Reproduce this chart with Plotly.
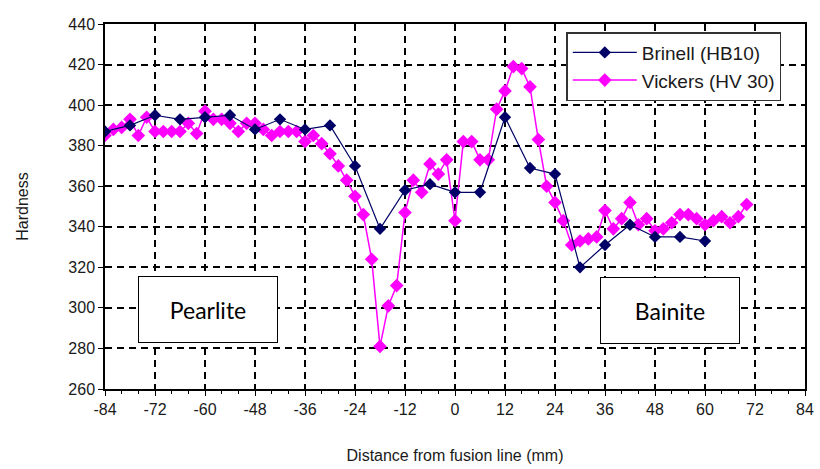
import plotly.graph_objects as go

# ---- data ----
brinell_x = [-84, -78, -72, -66, -60, -54, -48, -42, -36, -30, -24, -18, -12,
             -6, 0, 6, 12, 18, 24, 30, 36, 42, 48, 54, 60]
brinell_y = [387, 390, 395, 393, 394, 395, 388, 393, 388, 390, 370, 339, 358,
             361, 357, 357, 394, 369, 366, 320, 331, 341, 335, 335, 333]

vickers_x = [-84, -82, -80, -78, -76, -74, -72, -70, -68, -66, -64, -62, -60,
             -58, -56, -54, -52, -50, -48, -46, -44, -42, -40, -38, -36, -34,
             -32, -30, -28, -26, -24, -22, -20, -18, -16, -14, -12, -10, -8,
             -6, -4, -2, 0, 2, 4, 6, 8, 10, 12, 14, 16, 18, 20, 22, 24, 26,
             28, 30, 32, 34, 36, 38, 40, 42, 44, 46, 48, 50, 52, 54, 56, 58,
             60, 62, 64, 66, 68, 70]
vickers_y = [385, 388, 389, 393, 385, 394, 387, 387, 387, 387, 391, 386, 397,
             393, 393, 391, 387, 391, 391, 388, 385, 387, 387, 387, 382, 385,
             381, 376, 370, 363, 355, 346, 324, 281, 301, 311, 347, 363, 357,
             371, 366, 373, 343, 382, 382, 373, 373, 398, 407, 419, 418, 409,
             383, 360, 352, 343, 331, 333, 334, 335, 348, 339, 344, 352, 341,
             344, 338, 339, 342, 346, 346, 344, 341, 343, 345, 342, 345, 351]

x_ticks = [-84, -72, -60, -48, -36, -24, -12, 0, 12, 24, 36, 48, 60, 72, 84]
y_ticks = [260, 280, 300, 320, 340, 360, 380, 400, 420, 440]

regions = ["Pearlite", "Bainite"]
region_x = [-59.3, 51.5]
region_y = [299.3, 298.8]

NAVY = "#000066"
MAGENTA = "#FF00FF"
FONT = "Liberation Sans, Arial, sans-serif"

fig = go.Figure()
fig.add_trace(go.Scatter(
    x=vickers_x, y=vickers_y, mode="lines+markers", name="Vickers (HV 30)",
    line=dict(color=MAGENTA, width=1.5),
    marker=dict(symbol="diamond", size=10.5, color=MAGENTA),
))
fig.add_trace(go.Scatter(
    x=brinell_x, y=brinell_y, mode="lines+markers", name="Brinell (HB10)",
    line=dict(color=NAVY, width=1.2),
    marker=dict(symbol="diamond", size=9.5, color=NAVY),
))

for name, rx, ry in zip(regions, region_x, region_y):
    fig.add_annotation(
        x=rx, y=ry, xref="x", yref="y", text=name, showarrow=False,
        font=dict(family="Lato, Open Sans, sans-serif", size=23, color="black"),
        bgcolor="white", bordercolor="black", borderwidth=1, borderpad=1,
        width=136, height=63, align="center", valign="middle",
    )

axis_common = dict(
    showline=True, linecolor="black", linewidth=1.5, mirror=True,
    showgrid=True, gridcolor="black", gridwidth=1.5, griddash="7px,5px",
    zeroline=False, ticks="outside", ticklen=5, tickcolor="black",
    tickfont=dict(family=FONT, size=16, color="#1a1a1a"),
    automargin=False,
)

fig.update_xaxes(
    range=[-84, 84], tickvals=x_ticks, ticktext=[str(v) for v in x_ticks],
    minor=dict(dtick=4, ticks="outside", ticklen=3, tickcolor="black", showgrid=False),
    title=dict(text="Distance from fusion line (mm)",
               font=dict(family=FONT, size=16, color="#1a1a1a"), standoff=33),
    **axis_common,
)
fig.update_yaxes(
    range=[260, 440], tickvals=y_ticks, ticktext=[str(v) for v in y_ticks],
    title=dict(text="Hardness", font=dict(family=FONT, size=16, color="#1a1a1a"),
               standoff=36),
    **axis_common,
)

fig.update_layout(
    width=820, height=469,
    margin=dict(l=105, r=15, t=24, b=80),
    paper_bgcolor="white", plot_bgcolor="white",
    font=dict(family=FONT),
    showlegend=True,
    legend=dict(
        x=0.659, y=0.978, xanchor="left", yanchor="top",
        traceorder="reversed",
        bgcolor="white", bordercolor="#333333", borderwidth=1.5,
        font=dict(family=FONT, size=19, color="#1a1a1a"),
        itemwidth=64,
    ),
)

fig.write_html("out.html")
